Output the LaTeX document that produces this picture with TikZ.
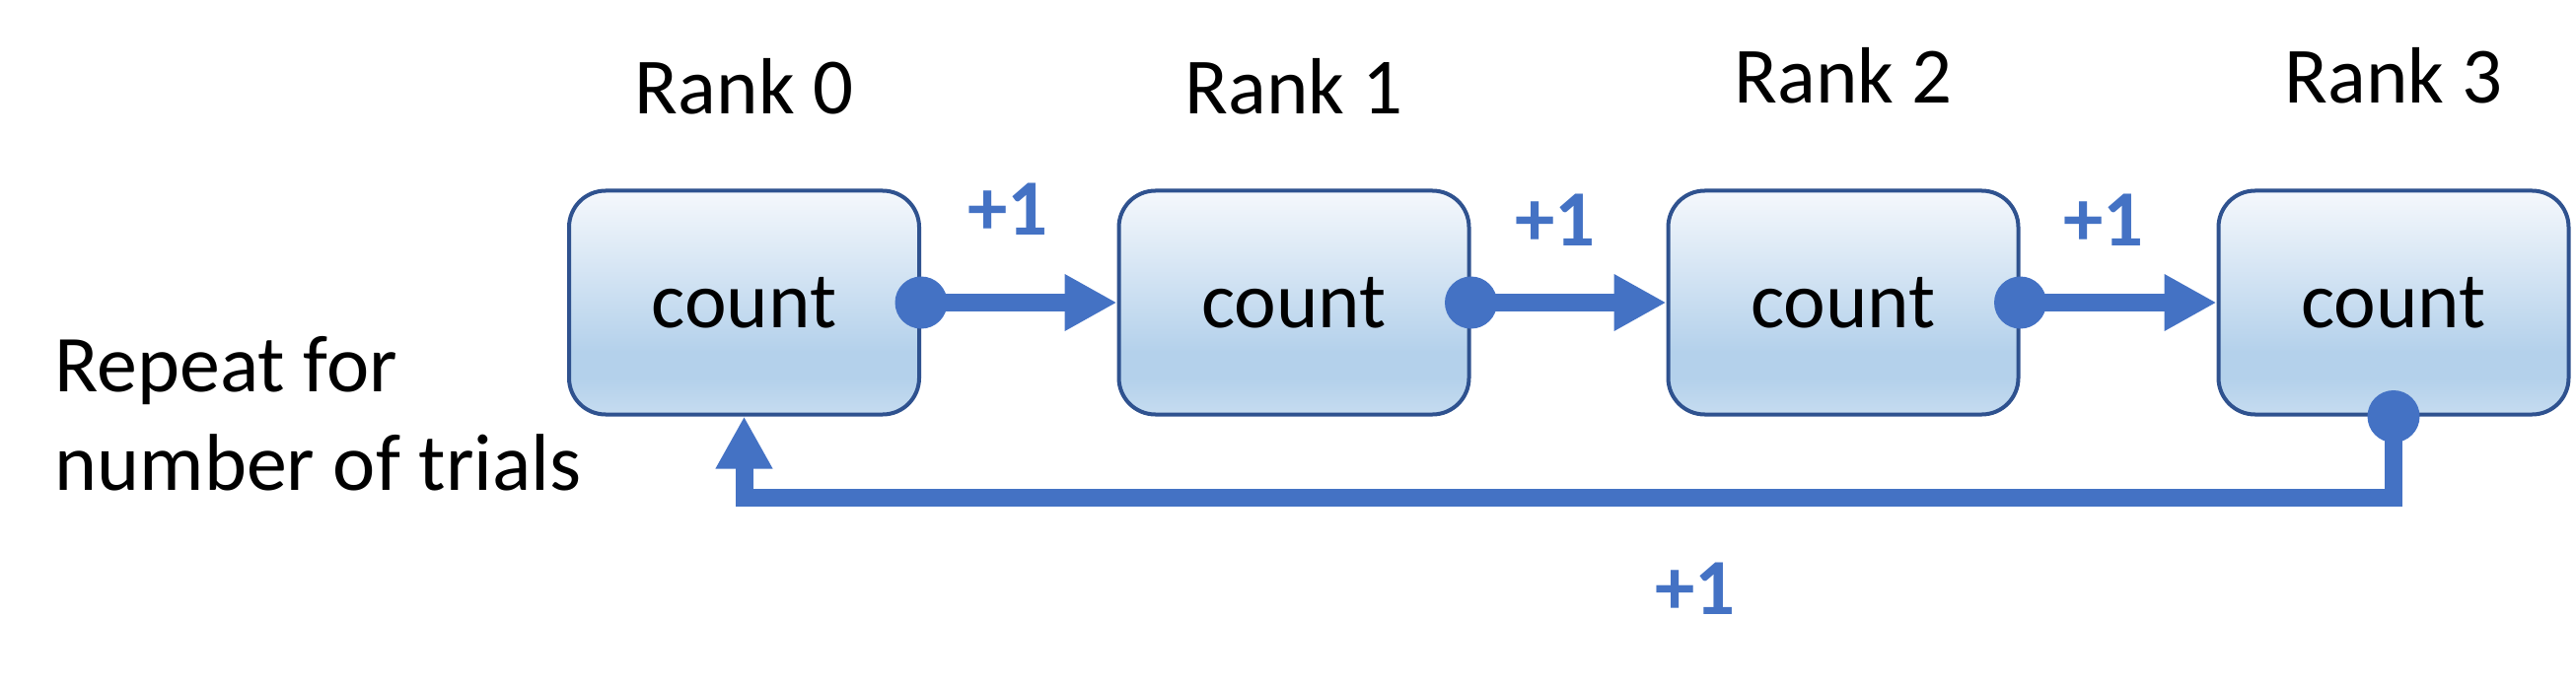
\documentclass[tikz,border=0pt]{standalone}
\usepackage{fontspec}
\setmainfont{Carlito}
\usetikzlibrary{arrows.meta}
\definecolor{conn}{HTML}{4472C4}
\definecolor{bordc}{HTML}{2F528F}
\definecolor{shB}{HTML}{C6DCF0}
\definecolor{shM}{HTML}{B4D1EB}
\definecolor{shT}{HTML}{F5F8FC}
\pgfdeclareverticalshading{boxsh}{100bp}{color(0bp)=(shB); color(25bp)=(shB); color(33bp)=(shM); color(39bp)=(shM); color(75bp)=(shT); color(100bp)=(shT)}
\tikzset{
  countbox/.style={draw=bordc, line width=0.04cm, rounded corners=0.37cm, shade, shading=boxsh,
    minimum width=3.55cm, minimum height=2.27cm, inner sep=0pt, font=\fontsize{23}{28}\selectfont},
  lbl/.style={font=\fontsize{23}{28}\selectfont, inner sep=0pt, anchor=base},
  inc/.style={font=\fontsize{23}{28}\selectfont\bfseries, text=conn, inner sep=0pt, anchor=base},
  flow/.style={draw=conn, line width=0.18cm, -{Triangle[length=0.53cm,width=0.54cm]}},
  dot/.style={fill=conn}
}
\begin{document}
\begin{tikzpicture}
\useasboundingbox (0,0) rectangle (26.12,-6.96);
% boxes
\node[countbox] (b0) at (7.545,-3.07) {count};
\node[countbox] (b1) at (13.12,-3.07) {count};
\node[countbox] (b2) at (18.69,-3.07) {count};
\node[countbox] (b3) at (24.27,-3.07) {count};
% rank labels
\node[lbl] (r0) at (7.545,-1.16) {Rank 0};
\node[lbl] (r1) at (13.12,-1.16) {Rank 1};
\node[lbl] (r2) at (18.69,-1.05) {Rank 2};
\node[lbl] (r3) at (24.27,-1.05) {Rank 3};
% forward arrows
\draw[flow] (b0.east) -- (b1.west);
\draw[flow] (b1.east) -- (b2.west);
\draw[flow] (b2.east) -- (b3.west);
\fill[dot] (b0.east) circle (0.265cm);
\fill[dot] (b1.east) circle (0.265cm);
\fill[dot] (b2.east) circle (0.265cm);
% feedback
\coordinate (fb) at (b3.south |- 0,-5.045);
\draw[flow] (b3.south) -- (fb) -| (b0.south);
\fill[dot] (b3.south) circle (0.265cm);
% increments
\node[inc] (p0) at (10.22,-2.39) {+1};
\node[inc] (p1) at (15.77,-2.50) {+1};
\node[inc] (p2) at (21.33,-2.50) {+1};
\node[inc] (p3) at (17.19,-6.23) {+1};
% repeat text
\node[font=\fontsize{23.3}{28.3}\selectfont, align=left, inner sep=0pt, anchor=base west] (rep) at (0.55,-4.97) {Repeat for\\number of trials};
\end{tikzpicture}
\end{document}
